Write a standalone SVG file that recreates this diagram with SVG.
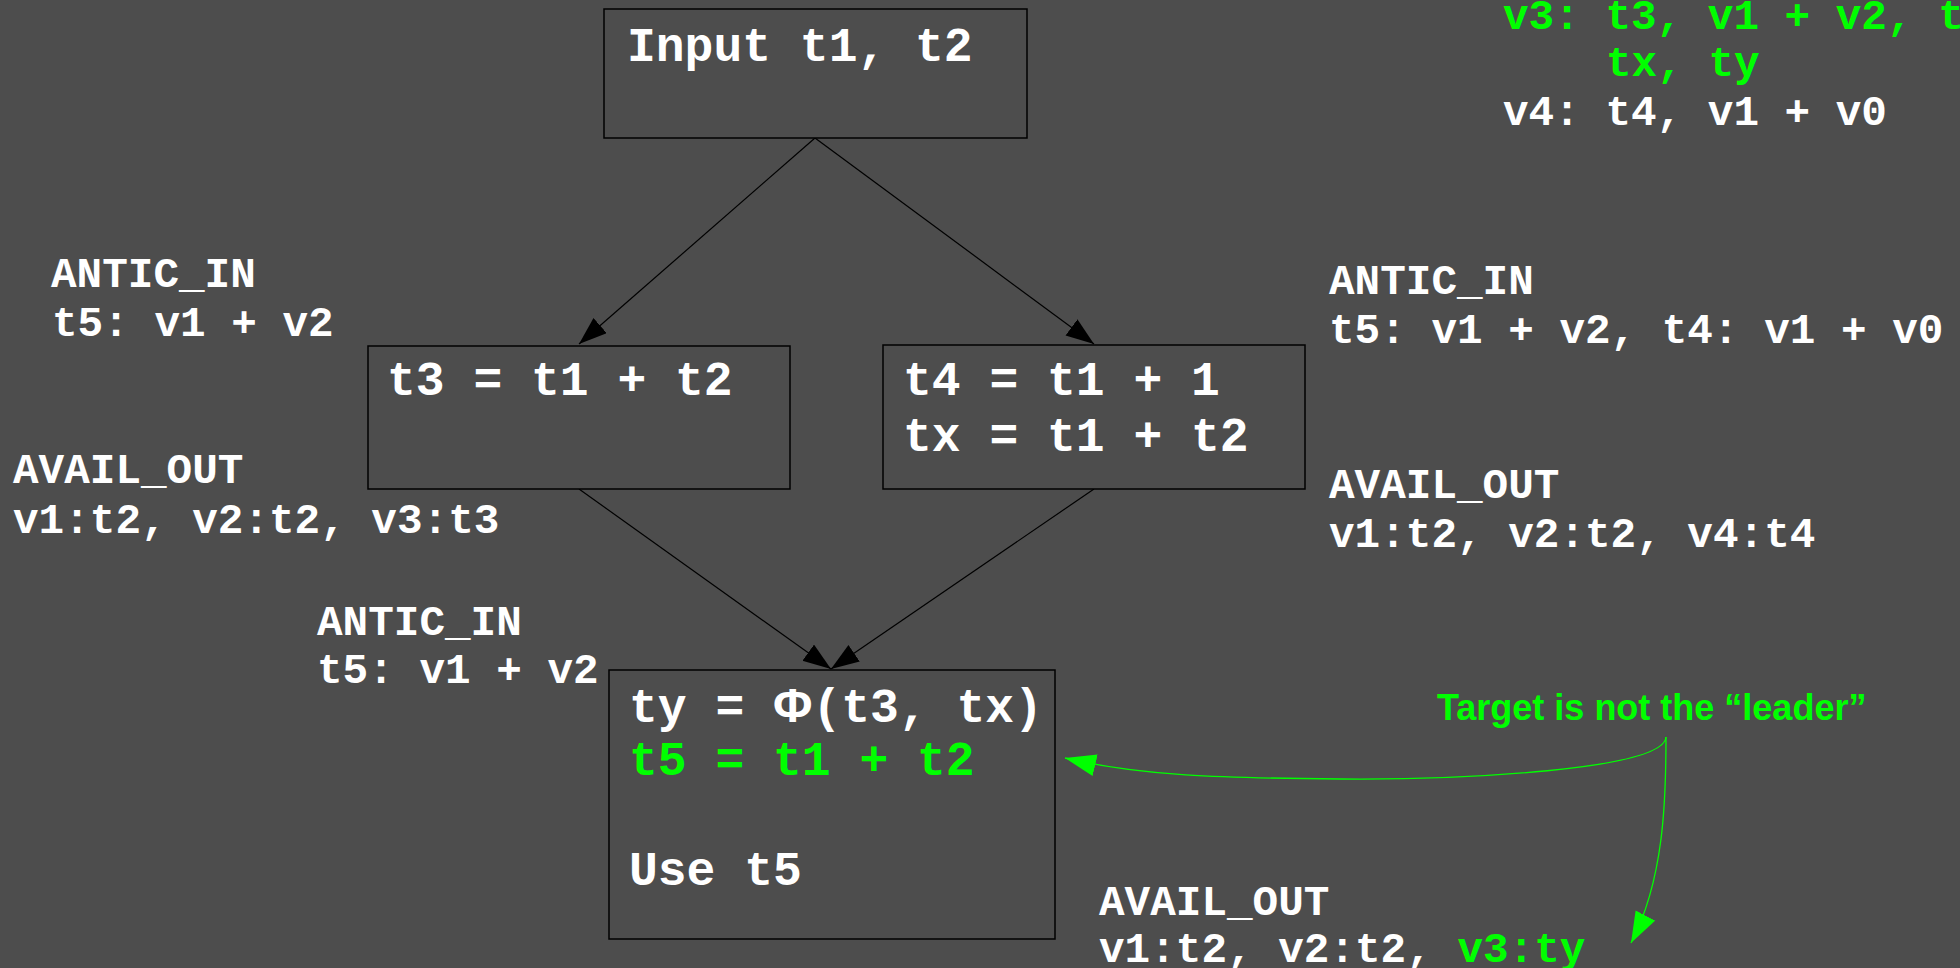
<svg xmlns="http://www.w3.org/2000/svg" width="1960" height="968" viewBox="0 0 1960 968">
<style>
.node rect{fill:#4d4d4d;stroke:#000;stroke-width:1.5}
.nt{font-family:"Liberation Mono","Courier New",monospace;font-weight:bold;font-size:48px;fill:#fff;white-space:pre}
.an{font-family:"Liberation Mono","Courier New",monospace;font-weight:bold;font-size:42.67px;fill:#fff;white-space:pre}
.g{fill:#00ff00}
.phi{font-family:"Liberation Sans",Arial,sans-serif;font-weight:bold}
.note{font-family:"Liberation Sans",Arial,sans-serif;font-weight:bold;font-size:36px;fill:#00ff00}
.edge{fill:none;stroke:#000;stroke-width:1.2}
.gedge{fill:none;stroke:#00ff00;stroke-width:1.3}
</style>
<defs>
<marker id="ah" markerUnits="userSpaceOnUse" markerWidth="30" markerHeight="22" refX="28" refY="10" orient="auto">
<path d="M0,0 L28,10 L0,20 z" fill="#000"/>
</marker>
<marker id="gah" markerUnits="userSpaceOnUse" markerWidth="34" markerHeight="24" refX="31" refY="11" orient="auto">
<path d="M0,0 L31,11 L0,22 z" fill="#00ff00"/>
</marker>
</defs>
<rect width="1960" height="968" fill="#4d4d4d"/>

<g id="connectors">
<line class="edge" x1="815" y1="138" x2="579" y2="344" marker-end="url(#ah)"/>
<line class="edge" x1="815" y1="138" x2="1094" y2="344" marker-end="url(#ah)"/>
<line class="edge" x1="579" y1="489" x2="831" y2="669" marker-end="url(#ah)"/>
<line class="edge" x1="1094" y1="489" x2="831" y2="669" marker-end="url(#ah)"/>
<path class="gedge" d="M1666,737 C1664,770 1460,780 1340,779 S1140,776 1065,758" marker-end="url(#gah)"/>
<path class="gedge" d="M1666,737 C1666,800 1664,880 1631,943" marker-end="url(#gah)"/>
</g>

<g id="node-input" class="node">
<rect x="604" y="9" width="423" height="129"/>
<text class="nt" x="627" y="61">Input t1, t2</text>
</g>

<g id="node-t3" class="node">
<rect x="368" y="346" width="422" height="143"/>
<text class="nt" x="387" y="395">t3 = t1 + t2</text>
</g>

<g id="node-t4" class="node">
<rect x="883" y="345" width="422" height="144"/>
<text class="nt" x="903" y="395">t4 = t1 + 1</text>
<text class="nt" x="903" y="451">tx = t1 + t2</text>
</g>

<g id="node-merge" class="node">
<rect x="609" y="670" width="446" height="269"/>
<text class="nt" x="629" y="722">ty = <tspan class="phi">Φ</tspan>(t3, tx)</text>
<text class="nt g" x="629" y="775">t5 = t1 + t2</text>
<text class="nt" x="629" y="885">Use t5</text>
</g>

<g id="labels">
<text class="an g" x="1503" y="29">v3: t3, v1 + v2, t</text>
<text class="an g" x="1606" y="76">tx, ty</text>
<text class="an" x="1503" y="125">v4: t4, v1 + v0</text>

<text class="an" x="51" y="287">ANTIC_IN</text>
<text class="an" x="52" y="336">t5: v1 + v2</text>
<text class="an" x="13" y="483">AVAIL_OUT</text>
<text class="an" x="13" y="533">v1:t2, v2:t2, v3:t3</text>

<text class="an" x="1329" y="294">ANTIC_IN</text>
<text class="an" x="1329" y="343">t5: v1 + v2, t4: v1 + v0</text>
<text class="an" x="1329" y="498">AVAIL_OUT</text>
<text class="an" x="1329" y="547">v1:t2, v2:t2, v4:t4</text>

<text class="an" x="317" y="635">ANTIC_IN</text>
<text class="an" x="317" y="683">t5: v1 + v2</text>

<text class="an" x="1099" y="915">AVAIL_OUT</text>
<text class="an" x="1099" y="962">v1:t2, v2:t2, <tspan class="g">v3:ty</tspan></text>

<text class="note" x="1437" y="720">Target is not the “leader”</text>
</g>
</svg>
